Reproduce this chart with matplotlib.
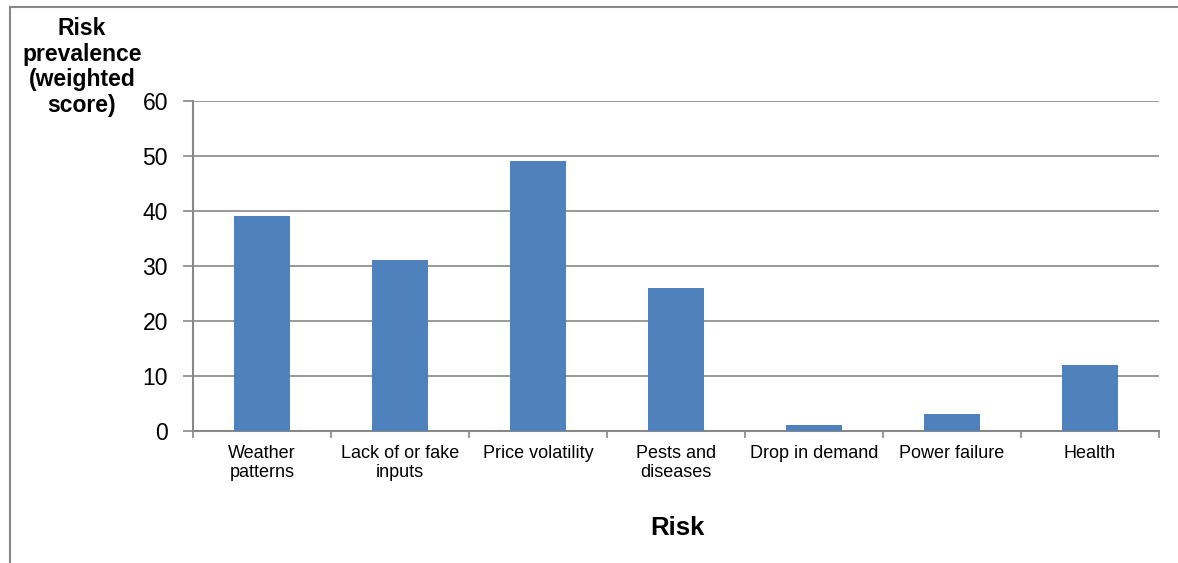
import matplotlib.pyplot as plt
from matplotlib.lines import Line2D
import numpy as np

categories = ["Weather\npatterns", "Lack of or fake\ninputs", "Price volatility",
              "Pests and\ndiseases", "Drop in demand", "Power failure", "Health"]
values = [39, 31, 49, 26, 1, 3, 12]
yticks = [0, 10, 20, 30, 40, 50, 60]

plt.rcParams['font.family'] = ['Liberation Sans', 'DejaVu Sans']
grey = '#888888'
blue = '#4F81BD'

fig = plt.figure(figsize=(11.78, 5.63), dpi=100)
ax = fig.add_axes([0.1638, 0.2345, 0.8201, 0.5861])

x = np.arange(len(categories))
ax.bar(x, values, width=0.4, color=blue, zorder=3)

ax.set_xlim(-0.5, len(categories) - 0.5)
ax.set_ylim(0, 60)
ax.set_yticks(yticks)
ax.set_yticklabels([str(v) for v in yticks], fontsize=16.5)
ax.yaxis.grid(True, color=grey, linewidth=1.2, zorder=0)
ax.tick_params(axis='y', length=7, width=1.2, color=grey, pad=11)

# category labels sit between boundary ticks
ax.set_xticks(x)
ax.set_xticklabels(categories, fontsize=13, linespacing=1.15)
ax.tick_params(axis='x', length=0, pad=10)
ax.set_xticks(np.arange(len(categories) + 1) - 0.5, minor=True)
ax.tick_params(axis='x', which='minor', length=5, width=1.2, color=grey)

for s in ['top', 'right']:
    ax.spines[s].set_visible(False)
for s in ['left', 'bottom']:
    ax.spines[s].set_color(grey)
    ax.spines[s].set_linewidth(1.5)

fig.text(82 / 1178, 1 - 67 / 563, "Risk\nprevalence\n(weighted\nscore)",
         ha='center', va='center', fontsize=16.5, fontweight='bold', linespacing=1.15)
fig.text(677 / 1178, 1 - 528 / 563, "Risk", ha='center', va='center',
         fontsize=18.5, fontweight='bold')

# outer frame lines (left and top only)
fig.add_artist(Line2D([10 / 1178, 10 / 1178], [0, 1 - 7 / 563], color=grey, lw=1.5,
                      transform=fig.transFigure))
fig.add_artist(Line2D([10 / 1178, 1], [1 - 7 / 563, 1 - 7 / 563], color=grey, lw=1.5,
                      transform=fig.transFigure))

fig.savefig("out.png", dpi=100)
